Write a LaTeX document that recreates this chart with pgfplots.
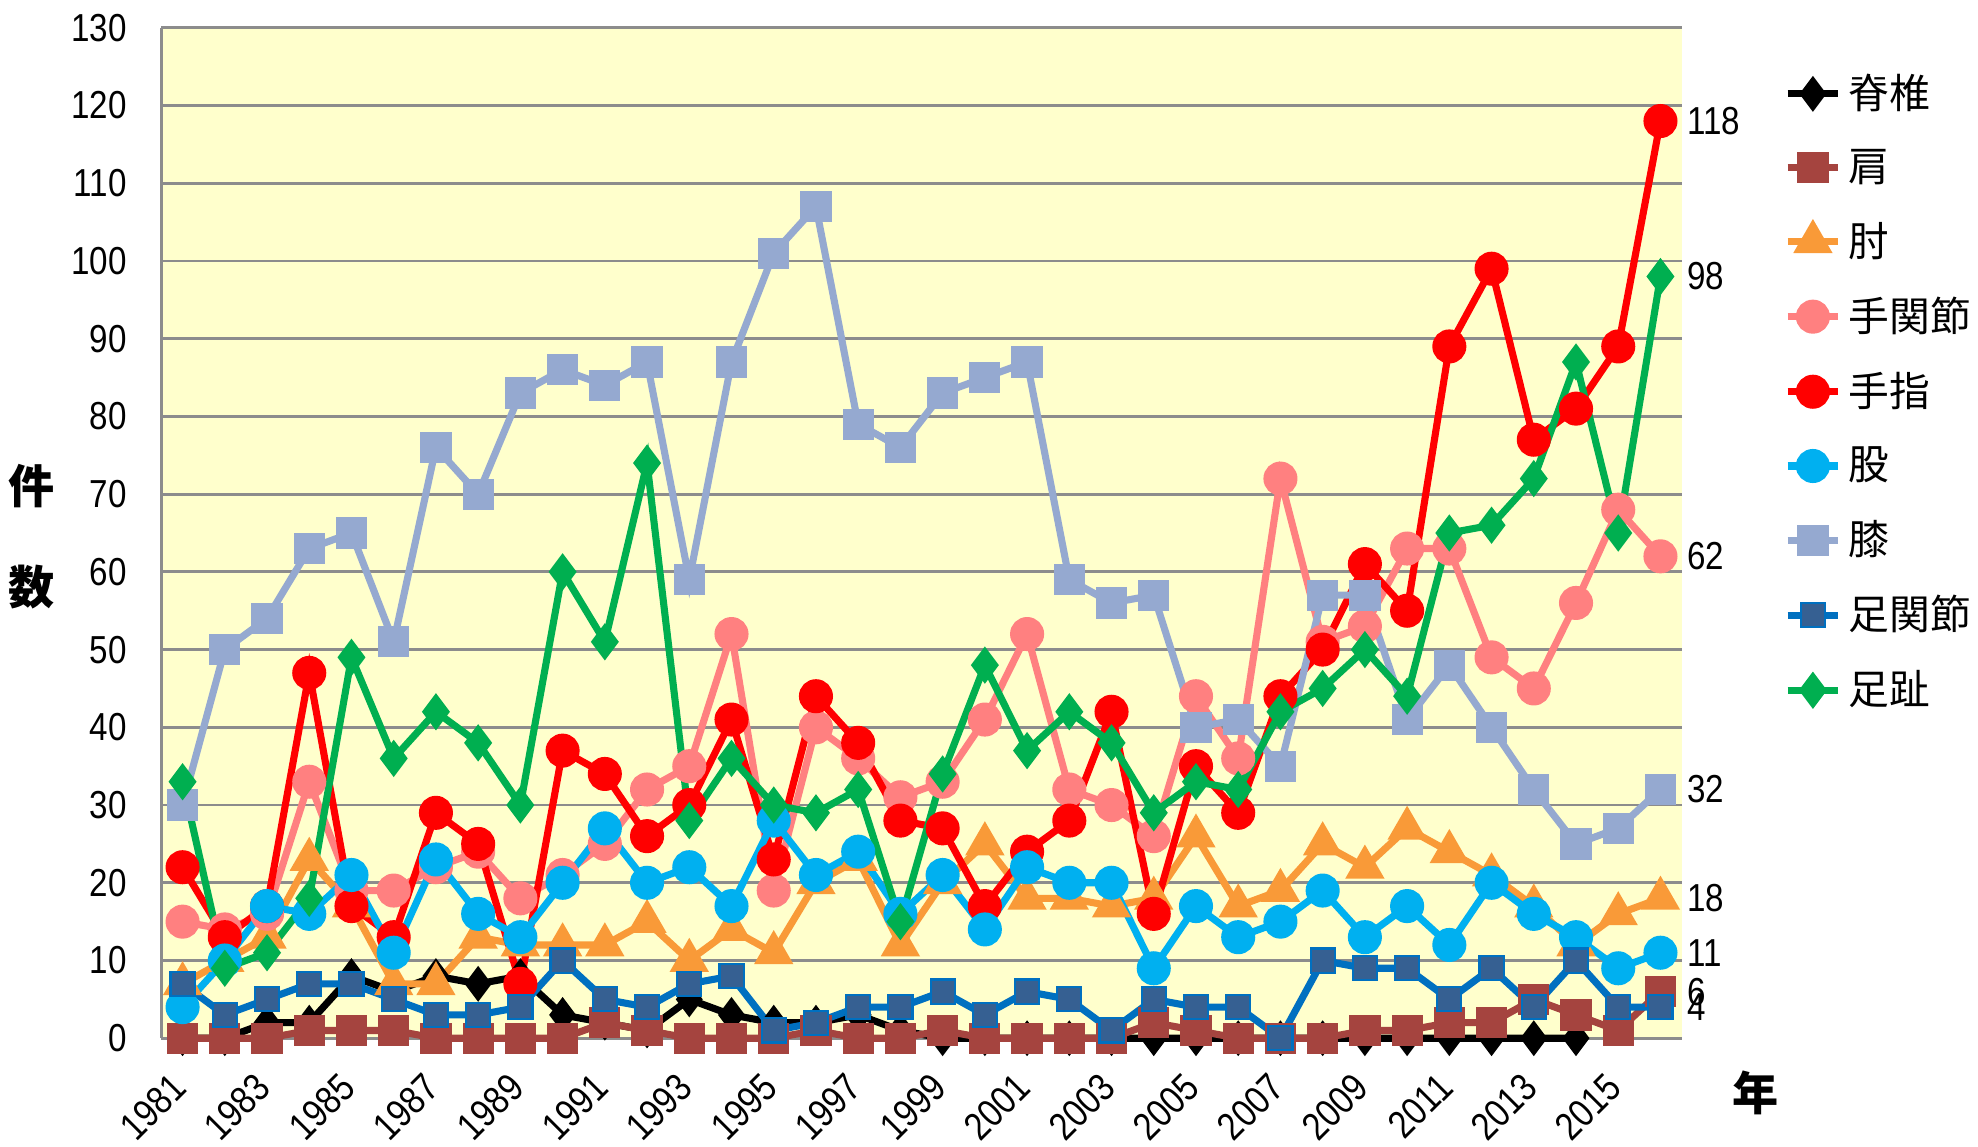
\documentclass[border=0pt]{standalone}
\usepackage{fontspec}
\setmainfont{Liberation Sans}
\newfontfamily\jp{Noto Sans CJK JP}
\newfontfamily\narrow[FakeStretch=0.85]{Liberation Sans}
\usepackage{pgfplots}
\pgfplotsset{compat=1.18}
\usepackage{pgfplotstable}

\definecolor{cYel}{HTML}{FFFFCC}
\definecolor{cGrid}{HTML}{8C8C8C}
\definecolor{cBrown}{HTML}{A5443F}
\definecolor{cOrange}{HTML}{F99A38}
\definecolor{cPink}{HTML}{FF8080}
\definecolor{cRed}{HTML}{FF0000}
\definecolor{cCyan}{HTML}{00B0F0}
\definecolor{cKnee}{HTML}{95A9D0}
\definecolor{cAnkLine}{HTML}{0070C0}
\definecolor{cAnkFill}{HTML}{366092}
\definecolor{cGreen}{HTML}{00AF50}

\tikzset{lbl/.style={anchor=west, xshift=2.6mm, font=\narrow\fontsize{11}{13}\selectfont, inner sep=0pt}}

\pgfplotstableread{
i sp sh el wr fi hi kn an to
0 0 0 7 15 22 4 30 7 33
1 0 0 10 14 13 10 50 3 9
2 2 0 13 16 17 17 54 5 11
3 2 1 23 33 47 16 63 7 18
4 8 1 17 19 17 21 65 7 49
5 6 1 7 19 13 11 51 5 36
6 8 0 7 22 29 23 76 3 42
7 7 0 13 24 25 16 70 3 38
8 8 0 12 18 7 13 83 4 30
9 3 0 12 21 37 20 86 10 60
10 2 2 12 25 34 27 84 5 51
11 1 1 15 32 26 20 87 4 74
12 5 0 10 35 30 22 59 7 28
13 3 0 14 52 41 17 87 8 36
14 2 0 11 19 23 28 101 1 30
15 2 1 20 40 44 21 107 2 29
16 3 0 23 36 38 24 79 4 32
17 1 0 12 31 28 16 76 4 15
18 0 1 20 33 27 21 83 6 34
19 0 0 25 41 17 14 85 3 48
20 0 0 18 52 24 22 87 6 37
21 0 0 18 32 28 20 59 5 42
22 0 0 17 30 42 20 56 1 38
23 0 2 18 26 16 9 57 5 29
24 0 1 26 44 35 17 40 4 33
25 0 0 17 36 29 13 41 4 32
26 0 0 19 72 44 15 35 0 42
27 0 0 25 51 50 19 57 10 45
28 0 1 22 53 61 13 57 9 50
29 0 1 27 63 55 17 41 9 44
30 0 2 24 63 89 12 48 5 65
31 0 2 21 49 99 20 40 9 66
32 0 5 17 45 77 16 32 4 72
33 0 3 12 56 81 13 25 10 87
34 nan 1 16 68 89 9 27 4 65
35 nan 6 18 62 118 11 32 4 98
}\data

\def\u{0.125mm}

\begin{document}
\begin{tikzpicture}
\begin{axis}[name=ax, scale only axis,
  width=150.625mm, height=100.125mm,
  xmin=-0.5, xmax=35.5, ymin=0, ymax=130,
  clip=false,
  axis background/.style={fill=cYel},
  axis lines*=left,
  axis line style={cGrid, line width=0.8pt},
  ymajorgrids, grid style={cGrid, line width=0.8pt},
  ytick={0,10,...,130},
  xtick={0,2,...,34},
  xticklabels={1981,1983,1985,1987,1989,1991,1993,1995,1997,1999,2001,2003,2005,2007,2009,2011,2013,2015},
  xtick style={draw=none},
  ytick style={cGrid},
  major tick length=1mm,
  /pgf/number format/assume math mode=true,
  yticklabel style={font=\narrow\fontsize{11}{13}\selectfont, xshift=-2.2mm},
  xticklabel style={font=\narrow\fontsize{11}{13}\selectfont, rotate=45, anchor=north east, xshift=-2.0mm, yshift=-0.1mm},
  legend style={at={(1.06,0.969)}, anchor=north west, draw=none, fill=none,
    font=\jp\fontsize{11.5}{13}\selectfont, row sep=2.1mm,
    cells={anchor=west}},
  legend image code/.code={\draw[mark repeat=2,mark phase=2] plot coordinates {(0mm,0mm) (2.5mm,0mm) (5mm,0mm)};},
  every axis plot/.append style={line width=2pt, mark options={solid}},
]
\addplot[black, mark=diamond*, mark size=3.4pt] table[x=i,y=sp]{\data};
\addlegendentry{脊椎}
\addplot[cBrown, mark=square*, mark size=3.4pt] table[x=i,y=sh]{\data};
\addlegendentry{肩}
\addplot[cOrange, mark=triangle*, mark size=4.4pt] table[x=i,y=el]{\data};
\addlegendentry{肘}
\addplot[cPink, mark=*, mark size=3.8pt] table[x=i,y=wr]{\data};
\addlegendentry{手関節}
\addplot[cRed, mark=*, mark size=3.8pt] table[x=i,y=fi]{\data};
\addlegendentry{手指}
\addplot[cCyan, mark=*, mark size=3.8pt] table[x=i,y=hi]{\data};
\addlegendentry{股}
\addplot[cKnee, mark=square*, mark size=3.4pt] table[x=i,y=kn]{\data};
\addlegendentry{膝}
\addplot[cAnkLine, mark=square*, mark size=3.4pt, mark options={fill=cAnkFill, draw=cAnkLine, line width=0.6pt}] table[x=i,y=an]{\data};
\addlegendentry{足関節}
\addplot[cGreen, mark=diamond*, mark size=3.6pt] table[x=i,y=to]{\data};
\addlegendentry{足趾}

\node[lbl] at (axis cs:35,118) {118};
\node[lbl] at (axis cs:35,98) {98};
\node[lbl] at (axis cs:35,62) {62};
\node[lbl] at (axis cs:35,32) {32};
\node[lbl] at (axis cs:35,18) {18};
\node[lbl] at (axis cs:35,11) {11};
\node[lbl] at (axis cs:35,6) {6};
\node[lbl] at (axis cs:35,4) {4};
\end{axis}
\node[font=\jp\bfseries\fontsize{13}{15}\selectfont] at ([xshift=-103*\u, yshift=438*\u]ax.south west) {件};
\node[font=\jp\bfseries\fontsize{13}{15}\selectfont] at ([xshift=-103*\u, yshift=358*\u]ax.south west) {数};
\node[font=\jp\bfseries\fontsize{13}{15}\selectfont] at ([xshift=1264*\u, yshift=-43*\u]ax.south west) {年};
\pgfresetboundingbox
\path[use as bounding box] ([xshift=-128*\u, yshift=-86*\u]ax.south west) rectangle ([xshift=235*\u, yshift=22*\u]ax.north east);
\end{tikzpicture}
\end{document}
